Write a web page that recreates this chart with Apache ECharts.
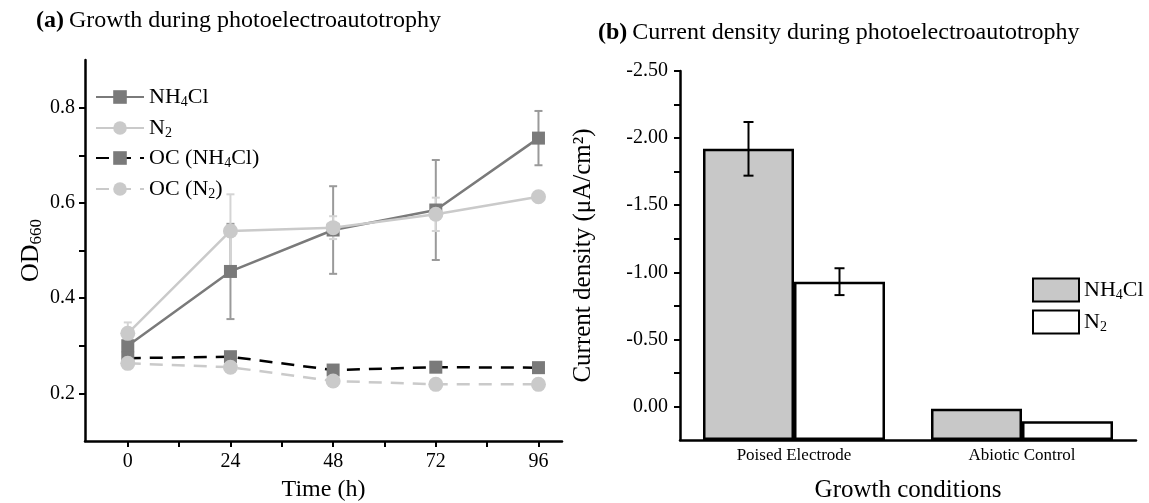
<!DOCTYPE html>
<html><head><meta charset="utf-8">
<script src="https://cdn.jsdelivr.net/npm/echarts@6/dist/echarts.min.js"></script>
<style>html,body{margin:0;padding:0;background:#fff}#c{width:1149px;height:503px}</style>
</head><body><div id="c"></div>
<script>
// ---- data: panel (a) ----
const timeHours = [0, 24, 48, 72, 96];
const timeTicks = [0, 12, 24, 36, 48, 60, 72, 84, 96];
const timeLabels = [0, 24, 48, 72, 96];
const odTicks = [0.2, 0.3, 0.4, 0.5, 0.6, 0.7, 0.8];
const odLabels = [0.2, 0.4, 0.6, 0.8];
const odNH4Cl = [0.300, 0.456, 0.543, 0.585, 0.736];
const odNH4ClErr = [0.015, 0.100, 0.092, 0.105, 0.057];
const odN2 = [0.326, 0.541, 0.548, 0.576, 0.613];
const odN2Err = [0.023, 0.077, 0.024, 0.035, 0.000];
const odOCNH4Cl = [0.274, 0.277, 0.249, 0.255, 0.254];
const odOCN2 = [0.263, 0.255, 0.226, 0.219, 0.219];
// ---- data: panel (b) ----
const conditions = ['Poised Electrode', 'Abiotic Control'];
const currentNH4Cl = [-1.92, 0.017];
const currentNH4ClErr = [0.20, 0];
const currentN2 = [-0.93, 0.11];
const currentN2Err = [0.10, 0];
const currentTicks = [-2.5, -2.25, -2, -1.75, -1.5, -1.25, -1, -0.75, -0.5, -0.25, 0];
const currentLabels = [-2.5, -2, -1.5, -1, -0.5, 0];

const F = 'Liberation Serif';
const C_DARK = '#7a7a7a', C_LIGHT = '#cacaca';
const BAR_W = 91;

function richSet(size, subSize) {
  return {
    a: {fontFamily: F, fontSize: size, lineHeight: size + 2, color: '#000', fontWeight: 'normal'},
    s: {fontFamily: F, fontSize: subSize, lineHeight: subSize, color: '#000', fontWeight: 'normal', verticalAlign: 'bottom', padding: [Math.round(size * 0.65), 0, 0, 0]}
  };
}
const nameText = {
  'NH4Cl': '{a|NH}{s|4}{a|Cl}',
  'N2': '{a|N}{s|2}',
  'OC (NH4Cl)': '{a|OC (NH}{s|4}{a|Cl)}',
  'OC (N2)': '{a|OC (N}{s|2}{a|)}',
  'NH4Cl current': '{a|NH}{s|4}{a|Cl}',
  'N2 current': '{a|N}{s|2}'
};
const pairs = (xs, ys) => xs.map((x, i) => [x, ys[i]]);
const triples = (xs, ys, es) => xs.map((x, i) => [x, ys[i], es[i]]);

function errRender(color, cap) {
  return function (params, api) {
    const x = api.value(0), y = api.value(1), e = api.value(2);
    if (!e) return null;
    const t = api.coord([x, y - e]), b = api.coord([x, y + e]);
    const st = {stroke: color, lineWidth: 2};
    return {type: 'group', children: [
      {type: 'line', shape: {x1: t[0], y1: t[1], x2: b[0], y2: b[1]}, style: st},
      {type: 'line', shape: {x1: t[0] - cap, y1: t[1], x2: t[0] + cap, y2: t[1]}, style: st},
      {type: 'line', shape: {x1: b[0] - cap, y1: b[1], x2: b[0] + cap, y2: b[1]}, style: st}
    ]};
  };
}
function barErrRender(sign) {
  return function (params, api) {
    const e = api.value(2);
    if (!e) return null;
    const c = api.coord([api.value(0), api.value(1)]);
    const x = c[0] + sign * BAR_W / 2;
    const t = api.coord([api.value(0), api.value(1) - e]);
    const b = api.coord([api.value(0), api.value(1) + e]);
    const st = {stroke: '#000', lineWidth: 2};
    const cap = 5;
    return {type: 'group', children: [
      {type: 'line', shape: {x1: x, y1: t[1], x2: x, y2: b[1]}, style: st},
      {type: 'line', shape: {x1: x - cap, y1: t[1], x2: x + cap, y2: t[1]}, style: st},
      {type: 'line', shape: {x1: x - cap, y1: b[1], x2: x + cap, y2: b[1]}, style: st}
    ]};
  };
}

const leftLegendNames = ['NH4Cl', 'N2', 'OC (NH4Cl)', 'OC (N2)'];
const leftLegendTops = [76, 107, 137, 168];
const legends = leftLegendNames.map((n, i) => ({
  data: [n], left: 90, top: leftLegendTops[i], itemWidth: 48, itemHeight: 17, itemGap: 0,
  selectedMode: false, formatter: nm => nameText[nm],
  textStyle: {fontFamily: F, fontSize: 22, color: '#000', rich: richSet(22, 14)}
}));
const rightLegendNames = ['NH4Cl current', 'N2 current'];
const rightLegendTops = [269, 301];
rightLegendNames.forEach((n, i) => legends.push({
  data: [n], left: 1027, top: rightLegendTops[i], itemWidth: 46, itemHeight: 23, itemGap: 0,
  selectedMode: false, formatter: nm => nameText[nm], icon: 'rect',
  textStyle: {fontFamily: F, fontSize: 22, color: '#000', rich: richSet(22, 14)}
}));

const axisLine = {show: true, onZero: false, lineStyle: {color: '#000', width: 2.5}};
const titleRich = {
  b: {fontFamily: F, fontSize: 24, fontWeight: 'bold', color: '#000'},
  n: {fontFamily: F, fontSize: 24, fontWeight: 'normal', color: '#000'}
};

const option = {
  animation: false,
  backgroundColor: '#fff',
  title: [
    {text: '{b|(a)} {n|Growth during photoelectroautotrophy}', left: 31, top: 4,
     textStyle: {fontWeight: 'normal', rich: titleRich}},
    {text: '{b|(b)} {n|Current density during photoelectroautotrophy}', left: 593, top: 16,
     textStyle: {fontWeight: 'normal', rich: titleRich}}
  ],
  legend: legends,
  grid: [
    {left: 85, top: 60, width: 477, height: 381, outerBoundsMode: 'none', containLabel: false},
    {left: 680, top: 71, width: 456, height: 369, outerBoundsMode: 'none', containLabel: false}
  ],
  xAxis: [
    {gridIndex: 0, type: 'value', min: -10, max: 101.5,
     axisLine, splitLine: {show: false},
     axisTick: {show: true, customValues: timeTicks, length: 6, lineStyle: {color: '#000', width: 2}},
     axisLabel: {customValues: timeLabels, fontFamily: F, fontSize: 20, color: '#000', margin: 11},
     name: 'Time (h)', nameLocation: 'middle', nameGap: 37,
     nameTextStyle: {fontFamily: F, fontSize: 24, color: '#000'}},
    {gridIndex: 1, type: 'category', data: conditions,
     axisLine, axisTick: {show: false},
     axisLabel: {fontFamily: F, fontSize: 17, color: '#000', margin: 7},
     name: 'Growth conditions', nameLocation: 'middle', nameGap: 38,
     nameTextStyle: {fontFamily: F, fontSize: 25, color: '#000'}}
  ],
  yAxis: [
    {gridIndex: 0, type: 'value', min: 0.1, max: 0.9,
     axisLine, splitLine: {show: false},
     axisTick: {show: true, customValues: odTicks, length: 6, lineStyle: {color: '#000', width: 2}},
     axisLabel: {customValues: odLabels, formatter: v => v.toFixed(1), fontFamily: F, fontSize: 20, color: '#000', margin: 10},
     name: '{a|OD}{s|660}', nameLocation: 'middle', nameGap: 40, nameRotate: 90,
     nameTextStyle: {rich: richSet(26, 17)}},
    {gridIndex: 1, type: 'value', inverse: true, min: -2.5, max: 0.25, startValue: 0.25,
     axisLine, splitLine: {show: false},
     axisTick: {show: true, customValues: currentTicks, length: 6, lineStyle: {color: '#000', width: 2}},
     axisLabel: {customValues: currentLabels, formatter: v => v.toFixed(2), fontFamily: F, fontSize: 20, color: '#000', margin: 12},
     name: 'Current density (μA/cm²)', nameLocation: 'middle', nameGap: 84, nameRotate: 90,
     nameTextStyle: {fontFamily: F, fontSize: 25, color: '#000'}}
  ],
  series: [
    {type: 'custom', name: 'errNH4Cl', xAxisIndex: 0, yAxisIndex: 0, renderItem: errRender('#9a9a9a', 4),
     data: triples(timeHours, odNH4Cl, odNH4ClErr), z: 1},
    {type: 'custom', name: 'errN2', xAxisIndex: 0, yAxisIndex: 0, renderItem: errRender('#d4d4d4', 4),
     data: triples(timeHours, odN2, odN2Err), z: 1},
    {type: 'line', name: 'NH4Cl', xAxisIndex: 0, yAxisIndex: 0, data: pairs(timeHours, odNH4Cl),
     symbol: 'rect', symbolSize: 13, itemStyle: {color: C_DARK}, lineStyle: {color: C_DARK, width: 2.5}, z: 2},
    {type: 'line', name: 'N2', xAxisIndex: 0, yAxisIndex: 0, data: pairs(timeHours, odN2),
     symbol: 'circle', symbolSize: 15, itemStyle: {color: C_LIGHT}, lineStyle: {color: C_LIGHT, width: 2.5}, z: 3},
    {type: 'line', name: 'OC (NH4Cl)', xAxisIndex: 0, yAxisIndex: 0, data: pairs(timeHours, odOCNH4Cl),
     symbol: 'rect', symbolSize: 13, itemStyle: {color: C_DARK}, lineStyle: {color: '#000', width: 2.5, type: [13, 9]}, z: 2},
    {type: 'line', name: 'OC (N2)', xAxisIndex: 0, yAxisIndex: 0, data: pairs(timeHours, odOCN2),
     symbol: 'circle', symbolSize: 15, itemStyle: {color: C_LIGHT}, lineStyle: {color: C_LIGHT, width: 2.5, type: [13, 9]}, z: 3},
    {type: 'bar', name: 'NH4Cl current', xAxisIndex: 1, yAxisIndex: 1, data: currentNH4Cl,
     barWidth: BAR_W, barGap: '0%', itemStyle: {color: '#c8c8c8', borderColor: '#000', borderWidth: 2.5}},
    {type: 'bar', name: 'N2 current', xAxisIndex: 1, yAxisIndex: 1, data: currentN2,
     barWidth: BAR_W, barGap: '0%', itemStyle: {color: '#fff', borderColor: '#000', borderWidth: 2.5}},
    {type: 'custom', name: 'errCurNH4Cl', xAxisIndex: 1, yAxisIndex: 1, renderItem: barErrRender(-1),
     data: conditions.map((c, i) => [c, currentNH4Cl[i], currentNH4ClErr[i]]), z: 5},
    {type: 'custom', name: 'errCurN2', xAxisIndex: 1, yAxisIndex: 1, renderItem: barErrRender(1),
     data: conditions.map((c, i) => [c, currentN2[i], currentN2Err[i]]), z: 5}
  ]
};
const chart = echarts.init(document.getElementById('c'), null, {renderer: 'canvas'});
chart.setOption(option);
</script></body></html>
